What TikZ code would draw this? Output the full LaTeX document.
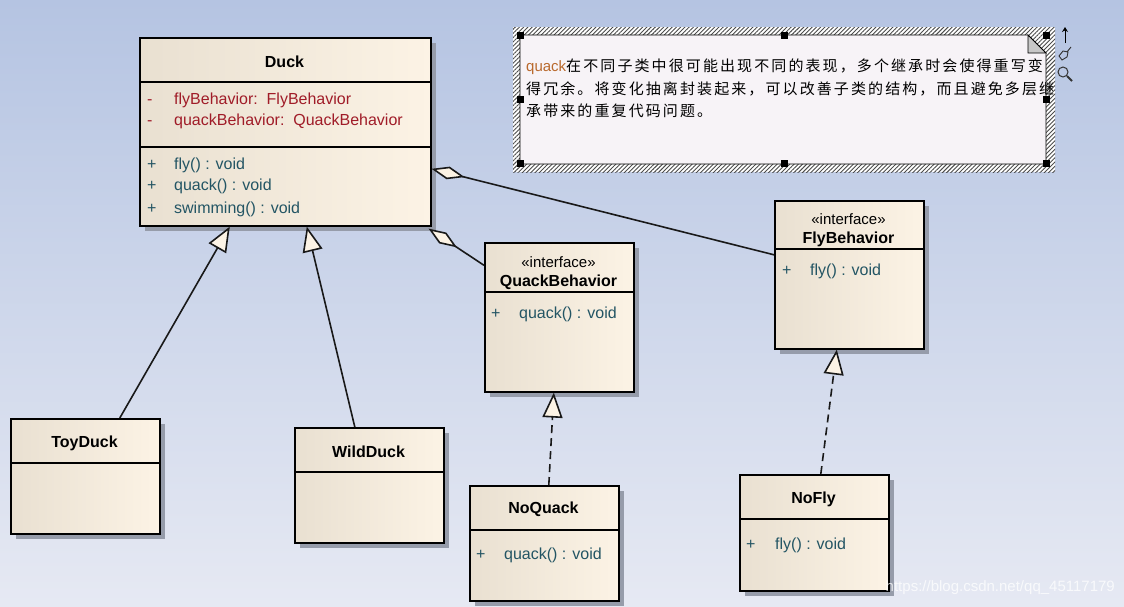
\documentclass[tikz,border=0pt]{standalone}
\usepackage{fontspec}
\setmainfont{Liberation Sans}
\newfontfamily\cjk[LetterSpace=14]{Noto Sans CJK SC}
\usetikzlibrary{arrows.meta,shadows,patterns.meta}

\definecolor{bgtop}{RGB}{181,196,226}
\definecolor{bgbottom}{RGB}{230,233,243}
\definecolor{boxleft}{RGB}{233,224,209}
\definecolor{boxright}{RGB}{252,243,229}
\definecolor{shadowgray}{RGB}{150,156,170}
\definecolor{attrred}{RGB}{160,28,40}
\definecolor{opteal}{RGB}{35,85,100}
\definecolor{notefill}{RGB}{247,243,247}
\definecolor{linegray}{RGB}{25,25,25}
\definecolor{quackbrown}{RGB}{185,105,45}

\newcommand{\vis}[2][27pt]{\makebox[#1][l]{#2}}

\tikzset{%
    classbox/.style={%
        draw=black, line width=1.6pt, anchor=north west, inner sep=0pt,
        left color=boxleft, right color=boxright,
        general shadow={fill=shadowgray, shadow xshift=5pt, shadow yshift=-5pt}
    },
    divider/.style={draw=black, line width=1.3pt},
    titletext/.style={font=\fontsize{16}{19}\selectfont\bfseries, inner sep=0pt},
    stereotext/.style={font=\fontsize{15}{18}\selectfont, inner sep=0pt},
    attrtext/.style={font=\fontsize{16}{19}\selectfont, text=attrred, anchor=base west, inner sep=0pt},
    optext/.style={font=\fontsize{16}{19}\selectfont, text=opteal, anchor=base west, inner sep=0pt},
    notetext/.style={font=\cjk\fontsize{15}{22}\selectfont, anchor=west, inner sep=0pt},
    aggr/.style={draw=linegray, line width=1.6pt,
        {Diamond[length=34pt,width=13pt,fill=boxright,line join=miter]}-},
    inherit/.style={draw=linegray, line width=1.6pt,
        -{Triangle[length=25pt,width=20pt,fill=boxright,line join=miter]}},
    realize/.style={inherit, dash pattern=on 8pt off 5pt}
}

\begin{document}
\begin{tikzpicture}[x=1pt,y=-1pt]
\useasboundingbox (0,0) rectangle (1124,606);
\fill[top color=bgtop, bottom color=bgbottom] (0,0) rectangle (1124,606);

% note with hatched frame
\fill[white] (513,27) rectangle (1055,172);
\fill[pattern={Lines[angle=45,distance=3pt,line width=0.9pt]}, pattern color=black!70]
    (513,27) rectangle (1055,172);
\filldraw[fill=notefill, draw=black, line width=0.6pt]
    (520,35) -- (1028,35) -- (1046,53) -- (1046,164) -- (520,164) -- cycle;
\filldraw[fill=black!22, draw=black, line width=0.8pt] (1028,35) -- (1028,53) -- (1046,53) -- cycle;
\foreach \hx/\hy in {520/35, 784/35, 1046/35, 520/99, 1046/99, 520/163, 784/163, 1046/163}
    \fill (\hx-3.5,\hy-3.5) rectangle (\hx+3.5,\hy+3.5);
\node[notetext] (note1) at (526,67) {{\rmfamily\fontsize{15}{18}\selectfont\color{quackbrown}quack}在不同子类中很可能出现不同的表现，多个继承时会使得重写变};
\node[notetext] (note2) at (526,89) {得冗余。将变化抽离封装起来，可以改善子类的结构，而且避免多层继};
\node[notetext] (note3) at (526,111) {承带来的重复代码问题。};

% icons beside the note
\draw[-{Stealth[length=5pt,width=6pt]}, line width=1pt] (1065,43) -- (1065,27);
\draw[line width=0.9pt, draw=black!80] (1059,56) -- (1063,51) -- (1068,52) -- (1067,57) -- (1062,60) -- cycle;
\draw[line width=0.9pt, draw=black!80] (1067,52) -- (1071,47);
\draw[line width=1pt, draw=black!80] (1063,72) circle (5);
\draw[line width=2pt, draw=black!80] (1067,76) -- (1072,81);

% classes
\node[classbox, minimum width=291pt, minimum height=188pt] (duck) at (139,37) {};
\node[classbox, minimum width=149pt, minimum height=149pt] (quack) at (484,242) {};
\node[classbox, minimum width=149pt, minimum height=148pt] (fly) at (774,200) {};
\node[classbox, minimum width=149pt, minimum height=115pt] (toy) at (10,418) {};
\node[classbox, minimum width=149pt, minimum height=115pt] (wild) at (294,427) {};
\node[classbox, minimum width=149pt, minimum height=115pt] (noquack) at (469,485) {};
\node[classbox, minimum width=149pt, minimum height=116pt] (nofly) at (739,474) {};

\draw[divider] ([yshift=-45pt]duck.north west) -- ([yshift=-45pt]duck.north east);
\draw[divider] ([yshift=-110pt]duck.north west) -- ([yshift=-110pt]duck.north east);
\draw[divider] ([yshift=-50pt]quack.north west) -- ([yshift=-50pt]quack.north east);
\draw[divider] ([yshift=-49pt]fly.north west) -- ([yshift=-49pt]fly.north east);
\draw[divider] ([yshift=-45pt]toy.north west) -- ([yshift=-45pt]toy.north east);
\draw[divider] ([yshift=-45pt]wild.north west) -- ([yshift=-45pt]wild.north east);
\draw[divider] ([yshift=-45pt]noquack.north west) -- ([yshift=-45pt]noquack.north east);
\draw[divider] ([yshift=-45pt]nofly.north west) -- ([yshift=-45pt]nofly.north east);

% Duck
\node[titletext] (ducktitle) at (284.5,62) {Duck};
\node[attrtext] (duckattr1) at (147,104) {\vis{-}flyBehavior:~~FlyBehavior};
\node[attrtext] (duckattr2) at (147,125) {\vis{-}quackBehavior:~~QuackBehavior};
\node[optext] (duckop1) at (147,169) {\vis{+}fly() : void};
\node[optext] (duckop2) at (147,190) {\vis{+}quack() : void};
\node[optext] (duckop3) at (147,213) {\vis{+}swimming() : void};

% QuackBehavior
\node[stereotext] (quackstereo) at (558.5,262) {«interface»};
\node[titletext] (quacktitle) at (558.5,282) {QuackBehavior};
\node[optext] (quackop) at (491,318) {\vis[28pt]{+}quack() : void};

% FlyBehavior
\node[stereotext] (flystereo) at (848.5,219) {«interface»};
\node[titletext] (flytitle) at (848.5,239) {FlyBehavior};
\node[optext] (flyop) at (782,275) {\vis[28pt]{+}fly() : void};

% subclasses
\node[titletext] (toytitle) at (84.5,443) {ToyDuck};
\node[titletext] (wildtitle) at (368.5,452) {WildDuck};
\node[titletext] (noquacktitle) at (543.5,509) {NoQuack};
\node[optext] (noquackop) at (476,559) {\vis[28pt]{+}quack() : void};
\node[titletext] (noflytitle) at (813.5,499) {NoFly};
\node[optext] (noflyop) at (746,549) {\vis[29pt]{+}fly() : void};

% Duck to FlyBehavior
\draw[aggr] ([yshift=-37pt]duck.east) -- ([yshift=20pt]fly.west);
% Duck to QuackBehavior
\draw[aggr] ([xshift=-3pt,yshift=-2pt]duck.south east) -- ([yshift=52pt]quack.west);
% ToyDuck to Duck
\draw[inherit] ([xshift=34.5pt]toy.north) -- ([xshift=-55.5pt]duck.south);
% WildDuck to Duck
\draw[inherit] ([xshift=-14.5pt]wild.north) -- ([xshift=21.5pt]duck.south);
% NoQuack to QuackBehavior
\draw[realize] ([xshift=4.5pt]noquack.north) -- ([xshift=-5.5pt]quack.south);
% NoFly to FlyBehavior
\draw[realize] ([xshift=6.5pt]nofly.north) -- ([xshift=-12.5pt]fly.south);

\node[font=\fontsize{15}{18}\selectfont, text=white, text opacity=0.75, anchor=east, inner sep=0pt]
    (mark) at (1115,588) {https://blog.csdn.net/qq\_45117179};
\end{tikzpicture}
\end{document}
